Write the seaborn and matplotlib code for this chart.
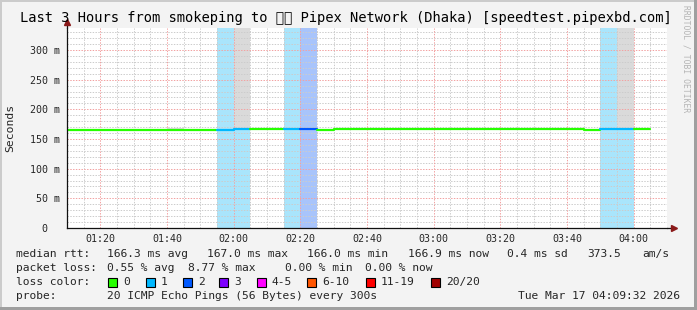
import numpy as np
import pandas as pd
import seaborn as sns
import matplotlib
matplotlib.use("Agg")
import matplotlib.pyplot as plt
from matplotlib.patches import Rectangle
from matplotlib.lines import Line2D

# ---------------- data ----------------
# 5-minute steps, minutes since midnight (01:10 .. 04:05)
step_start_min = list(range(70, 245, 5))
median_ms = [165.8, 165.9, 165.8, 165.8, 165.9, 165.8, 165.8, 165.8, 165.9,
             165.9, 167.4, 167.3, 167.2, 167.3, 167.2, 165.6, 167.1, 167.1,
             167.1, 167.0, 167.0, 166.1, 166.0, 166.0, 166.1, 166.0, 166.0,
             166.0, 166.0, 166.0, 167.5, 165.8, 166.0, 166.2, 167.0]
loss_idx = [0, 0, 0, 0, 0, 0, 0, 0, 0,
            1, 1, 0, 0, 1, 2, 0, 0, 0,
            0, 0, 0, 0, 0, 0, 0, 0, 0,
            0, 0, 0, 0, 0, 1, 1, 0]
smoke_max_ms = [166.5, 166.6, 166.5, 166.5, 166.6, 166.5, 168.5, 166.5, 166.6,
                166.6, 400.0, 168.0, 167.9, 168.0, 167.9, 166.3, 167.8, 167.8,
                167.8, 167.7, 167.7, 166.8, 166.7, 169.0, 166.8, 166.7, 166.7,
                166.7, 166.7, 166.7, 168.2, 166.5, 166.7, 400.0, 167.7]
smoke_min_ms = [165.2, 165.3, 165.2, 165.2, 165.3, 165.2, 165.2, 165.2, 165.3,
                165.3, 166.8, 166.7, 166.6, 166.7, 166.6, 165.0, 166.5, 166.5,
                166.5, 166.4, 166.4, 165.5, 165.4, 165.4, 165.5, 165.4, 165.4,
                165.4, 165.4, 165.4, 166.9, 165.2, 165.4, 165.6, 166.4]

loss_labels = ["0", "1", "2", "3", "4-5", "6-10", "11-19", "20/20"]
loss_colors = ["#26ff00", "#00b8ff", "#0059ff", "#7e00ff", "#ff00ff",
               "#ff5500", "#ff0000", "#a10000"]
loss_bg_colors = ["#ffffff", "#a9e5fc", "#a8c4fb", "#d2a8fb", "#fba8fb",
                  "#fbc4a8", "#fba8a8", "#e0a8a8"]

x_tick_min = list(range(80, 250, 20))
x_tick_labels = ["01:20", "01:40", "02:00", "02:20", "02:40", "03:00",
                 "03:20", "03:40", "04:00"]
y_ticks = [0, 50, 100, 150, 200, 250, 300]
y_tick_labels = ["0  ", "50 m", "100 m", "150 m", "200 m", "250 m", "300 m"]

title = ("Last 3 Hours from smokeping to \U0001F1E7\U0001F1E9 Pipex Network "
         "(Dhaka) [speedtest.pipexbd.com]")
rtt_parts = [("median rtt:", 16), ("166.3 ms avg", 107), ("167.0 ms max", 207),
             ("166.0 ms min", 307), ("166.9 ms now", 408), ("0.4 ms sd", 507),
             ("373.5", 587), ("am/s", 642)]
loss_parts = [("packet loss:", 16), ("0.55 % avg", 107), ("8.77 % max", 188),
              ("0.00 % min", 285), ("0.00 % now", 365)]
probe_text = "20 ICMP Echo Pings (56 Bytes) every 300s"
date_text = "Tue Mar 17 04:09:32 2026"

# ---------------- figure ----------------
W, H = 697, 310
sns.set_style("white")
plt.rcParams["font.family"] = ["DejaVu Sans Mono", "DejaVu Sans"]
fig = plt.figure(figsize=(W / 100, H / 100), dpi=100, facecolor="#f3f3f3")

def fx(px):
    return px / W

def fy(py):
    return 1 - py / H

ax_l, ax_r, ax_t, ax_b = 67, 667, 28, 228
ax = fig.add_axes([fx(ax_l), fy(ax_b), fx(ax_r - ax_l), (ax_b - ax_t) / H])
ax.set_facecolor("white")
XMIN, XMAX, YMAX = 70, 250, 337
ax.set_xlim(XMIN, XMAX)
ax.set_ylim(0, YMAX)

# loss background bars
for s, li in zip(step_start_min, loss_idx):
    if li > 0:
        ax.axvspan(s, s + 5, color=loss_bg_colors[li], lw=0, zorder=1)

# smoke
lo = np.array(smoke_min_ms)
hi = np.array(smoke_max_ms)
ax.bar(step_start_min, hi - lo, bottom=lo, width=5, align="edge",
       color="#dadada", lw=0, zorder=1.5)

# grid
grid_kw = dict(lw=0.72, linestyle=(0, (1.4, 1.4)), zorder=2)
for v in range(10, YMAX, 10):
    if v % 50:
        ax.axhline(v, color="#cccccc", **grid_kw)
for m in range(75, 250, 5):
    if m % 20:
        ax.axvline(m, color="#cccccc", **grid_kw)
for v in range(50, YMAX, 50):
    ax.axhline(v, color="#f2a2a2", **grid_kw)
for m in x_tick_min:
    ax.axvline(m, color="#f2a2a2", **grid_kw)

# median line colored by loss
rows = []
for i, (s, v, li) in enumerate(zip(step_start_min, median_ms, loss_idx)):
    rows.append({"t": s, "ms": v, "seg": i})
    rows.append({"t": s + 5, "ms": v, "seg": i})
df = pd.DataFrame(rows)
pal = {i: loss_colors[li] for i, li in enumerate(loss_idx)}
sns.lineplot(data=df, x="t", y="ms", hue="seg", palette=pal, estimator=None,
             legend=False, lw=1.6, ax=ax, zorder=3)

ax.set_xlabel("")
ax.set_ylabel("")
for sp in ["top", "right"]:
    ax.spines[sp].set_visible(False)
for sp in ["left", "bottom"]:
    ax.spines[sp].set_color("#101010")
    ax.spines[sp].set_linewidth(0.9)
    ax.spines[sp].set_zorder(4)

ax.set_xticks(x_tick_min)
ax.set_xticklabels(x_tick_labels)
ax.set_yticks(y_ticks)
ax.set_yticklabels(y_tick_labels)
ax.tick_params(axis="both", which="major", length=1.6, width=0.7,
               color="#101010", labelsize=7.2, direction="out")
ax.tick_params(axis="y", pad=3.6)
ax.tick_params(axis="x", pad=2.6)
for lab in ax.get_xticklabels() + ax.get_yticklabels():
    lab.set_fontfamily("DejaVu Sans Mono")

# axis extensions + arrows
ax.add_line(Line2D([1.0, 1.009], [0, 0], transform=ax.transAxes,
                   color="#101010", lw=0.9, clip_on=False, zorder=4))
ax.add_line(Line2D([0, 0], [1.0, 1.02], transform=ax.transAxes,
                   color="#101010", lw=0.9, clip_on=False, zorder=4))
ax.plot([1.0115], [0], marker=">", ms=4.5, color="#8b1a1a", mec="#8b1a1a",
        transform=ax.transAxes, clip_on=False, zorder=5)
ax.plot([0], [1.03], marker="^", ms=4.5, color="#8b1a1a", mec="#8b1a1a",
        transform=ax.transAxes, clip_on=False, zorder=5)

mono = "DejaVu Sans Mono"
fig.text(fx(20), fy(18), title, fontsize=9.9, family=[mono, "DejaVu Sans"],
         ha="left", va="center", color="#000000")
fig.text(fx(10.5), fy(127.5), "Seconds", fontsize=8.2, family=mono,
         rotation=90, ha="center", va="center")
fig.text(fx(686), fy(59), "RRDTOOL / TOBI OETIKER", fontsize=5.8, family=mono,
         rotation=270, ha="center", va="center", color="#b4b4b4")

LFS = 8.1
for txt, xp in rtt_parts:
    fig.text(fx(xp), fy(254), txt, fontsize=LFS, family=mono, ha="left", va="center")
for txt, xp in loss_parts:
    fig.text(fx(xp), fy(268), txt, fontsize=LFS, family=mono, ha="left", va="center")
fig.text(fx(16), fy(282), "loss color:", fontsize=LFS, family=mono,
         ha="left", va="center")
sq_x = [108, 146, 183, 219, 257, 307, 366, 431]
for xp, lab, col in zip(sq_x, loss_labels, loss_colors):
    fig.patches.append(Rectangle((fx(xp), fy(286.5)), fx(9), 9 / H,
                                 transform=fig.transFigure, facecolor=col,
                                 edgecolor="#000000", lw=0.8))
    fig.text(fx(xp + 15), fy(282), lab, fontsize=LFS, family=mono,
             ha="left", va="center")
fig.text(fx(16), fy(296), "probe:", fontsize=LFS, family=mono, ha="left", va="center")
fig.text(fx(107), fy(296), probe_text, fontsize=LFS, family=mono,
         ha="left", va="center")
fig.text(fx(680), fy(296), date_text, fontsize=LFS, family=mono,
         ha="right", va="center")

# 3D frame
fig.patches.append(Rectangle((0, fy(2)), 1, 2 / H, transform=fig.transFigure,
                             facecolor="#cbcbcb", lw=0))
fig.patches.append(Rectangle((0, 0), fx(2), 1, transform=fig.transFigure,
                             facecolor="#cbcbcb", lw=0))
fig.patches.append(Rectangle((0, 0), 1, 3 / H, transform=fig.transFigure,
                             facecolor="#9f9f9f", lw=0))
fig.patches.append(Rectangle((fx(W - 3), 0), fx(3), 1, transform=fig.transFigure,
                             facecolor="#9f9f9f", lw=0))

fig.savefig("out.png", dpi=100, facecolor=fig.get_facecolor())
